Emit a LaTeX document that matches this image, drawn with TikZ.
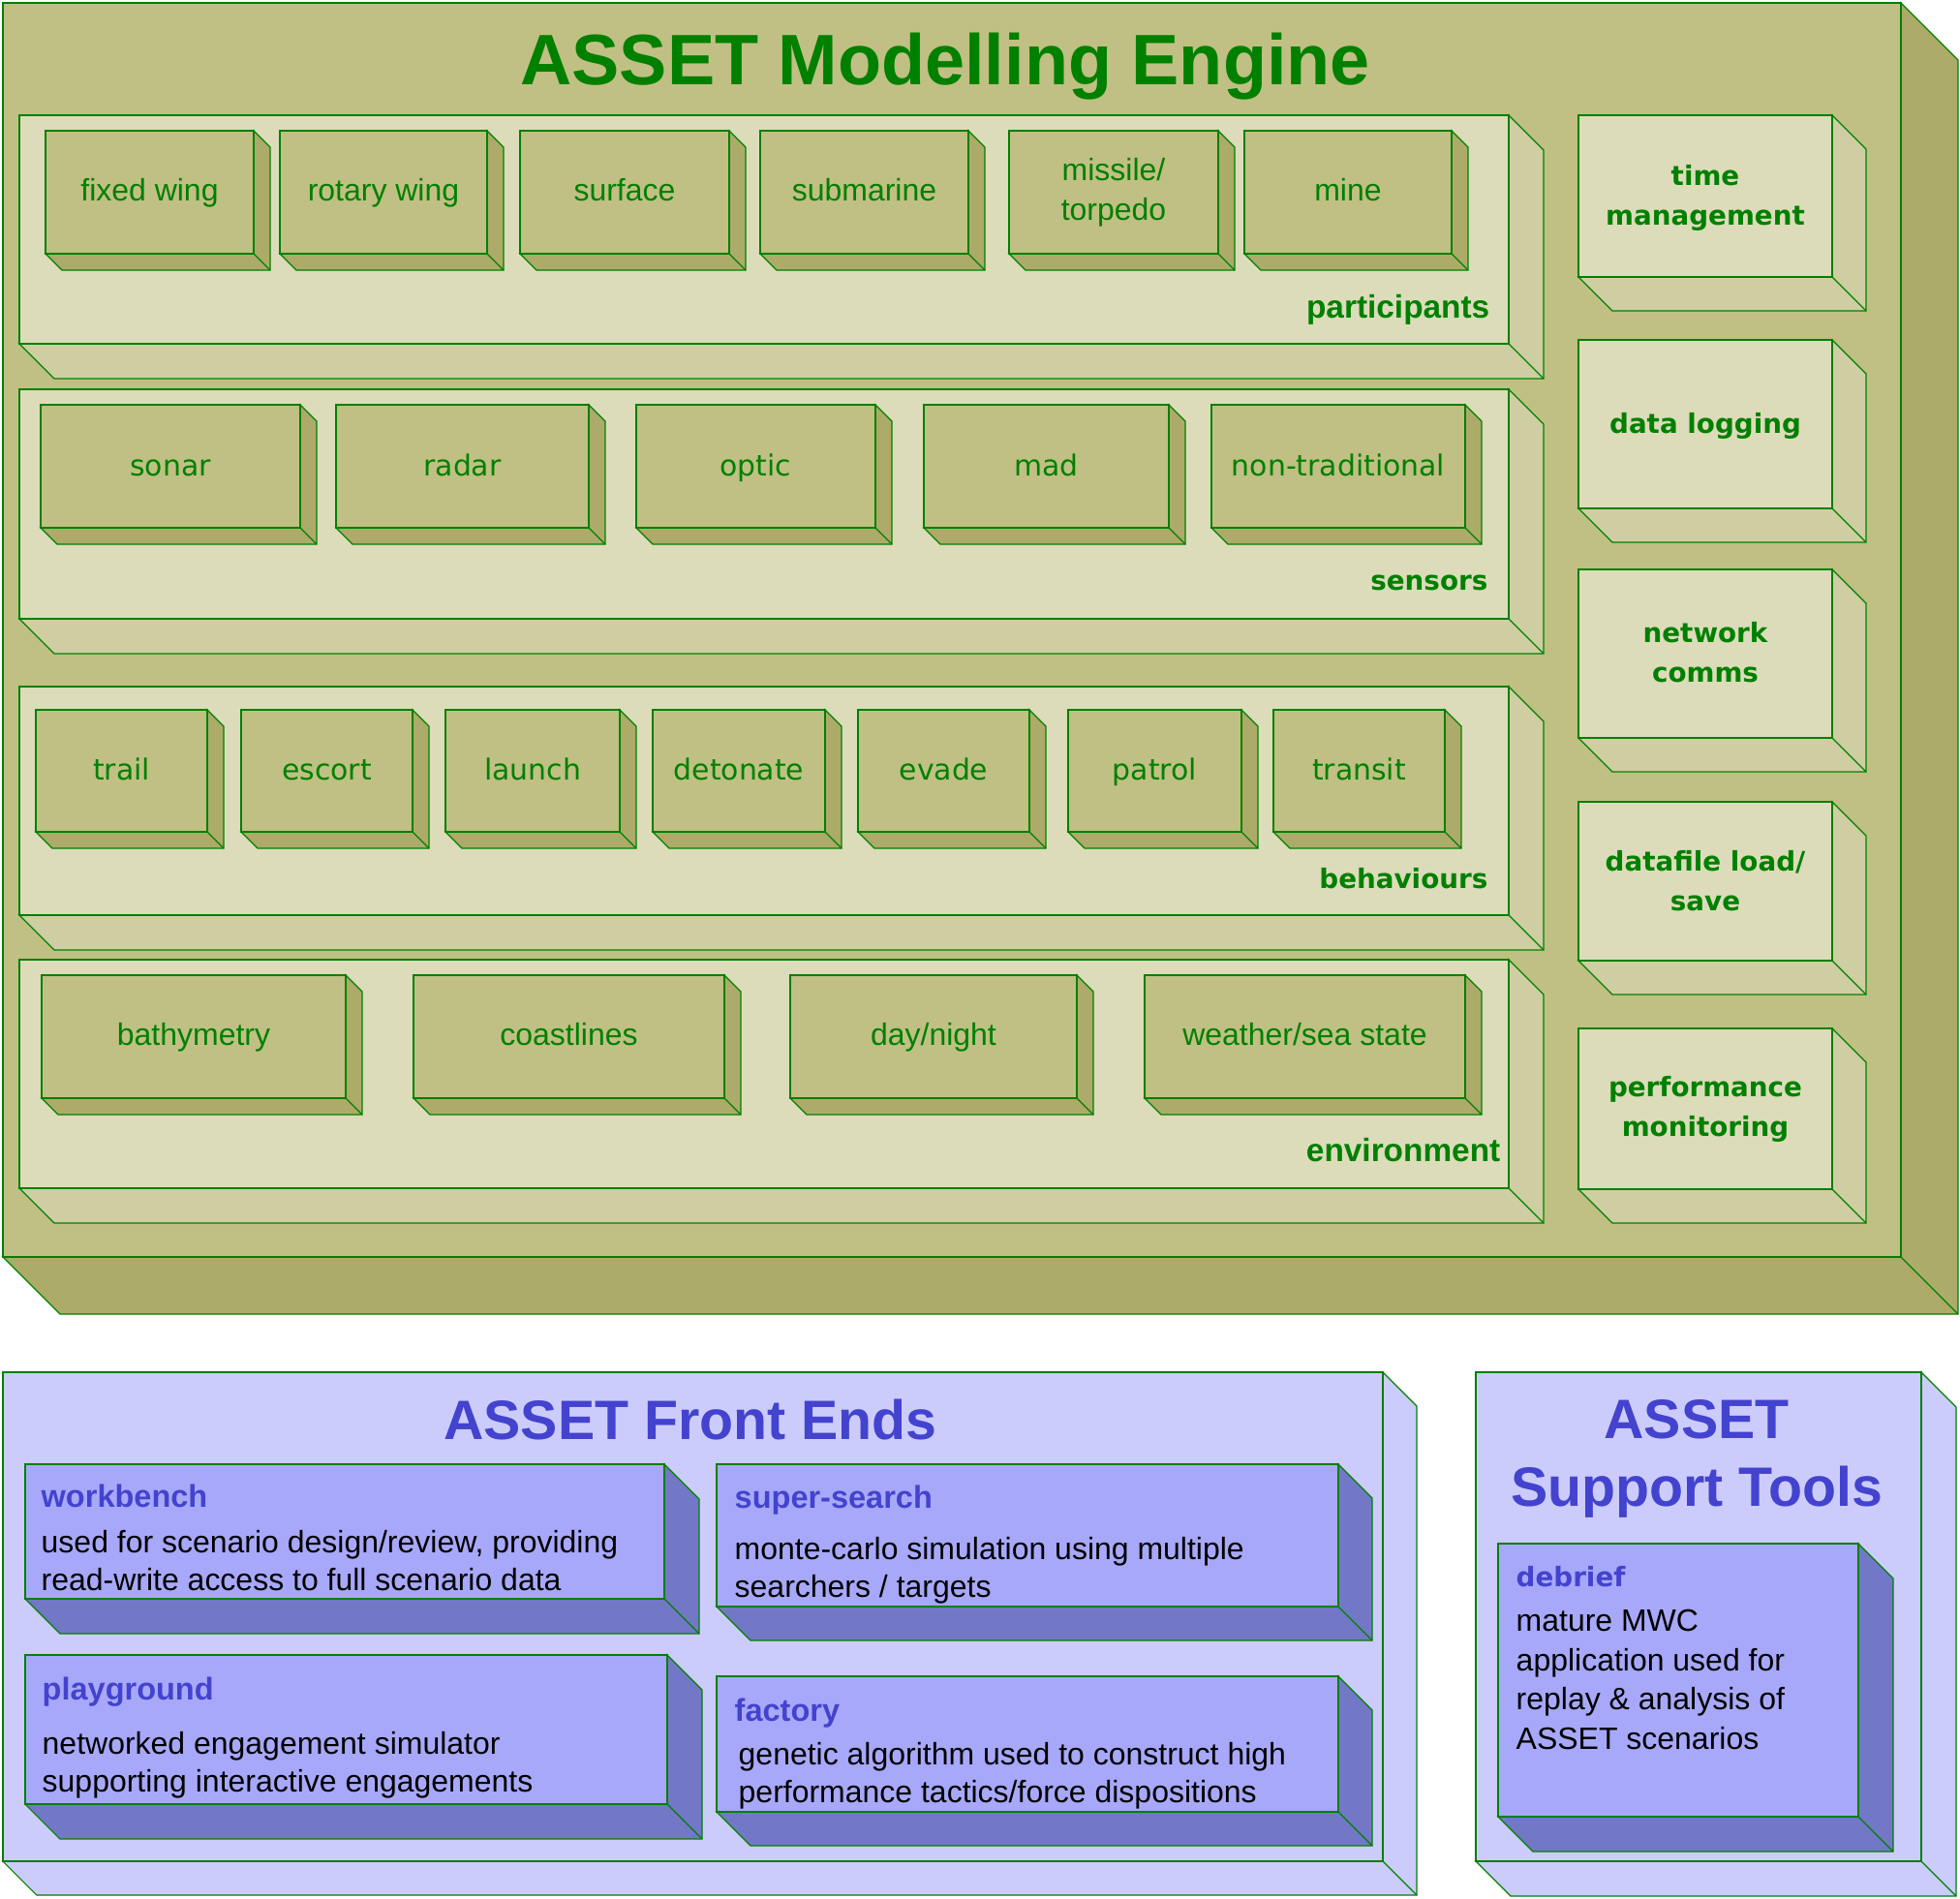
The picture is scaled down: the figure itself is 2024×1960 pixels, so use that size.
\documentclass[tikz,border=0pt]{standalone}
\usepackage{fontspec}
\setmainfont{Liberation Sans}
\newfontfamily\widesans{DejaVu Sans}
\usetikzlibrary{fit}

\definecolor{linegreen}{RGB}{0,128,0}
\definecolor{oliveface}{RGB}{192,192,132}
\definecolor{oliveside}{RGB}{173,171,105}
\definecolor{paleface}{RGB}{220,220,186}
\definecolor{paleside}{RGB}{207,206,163}
\definecolor{lilacface}{RGB}{204,204,252}
\definecolor{blueface}{RGB}{168,168,250}
\definecolor{blueside}{RGB}{114,120,198}
\definecolor{titleblue}{RGB}{67,67,207}

\tikzset {
  edge/.style = {
    draw = linegreen,
    line width = 0.11mm
  },
  % front face of a block, fitted to two corners
  face/.style = {
    edge,
    rectangle,
    inner sep = 0,
    outer sep = 0
  },
  engine face/.style = {face, fill = oliveface},
  engine depth/.style = {edge, fill = oliveside},
  panel face/.style = {face, fill = paleface},
  panel depth/.style = {edge, fill = paleside},
  item face/.style = {face, fill = oliveface},
  item depth/.style = {edge, fill = oliveside},
  bay face/.style = {face, fill = lilacface},
  bay depth/.style = {edge, fill = lilacface},
  tool face/.style = {face, fill = blueface},
  tool depth/.style = {edge, fill = blueside}
}
\tikzset {
  % multi-line texts sit on the baseline of their last line
  plain text/.style = {
    inner sep = 0,
    anchor = base,
    align = center
  },
  % big headings
  engine title/.style = {
    plain text,
    text = linegreen,
    font = \bfseries\fontsize{21}{25}\selectfont
  },
  bay title/.style = {
    plain text,
    text = titleblue,
    font = \bfseries\fontsize{16.3}{19.9}\selectfont
  },
  % labels inside the engine
  item text/.style = {
    plain text,
    text = linegreen,
    font = \fontsize{9.1}{11.4}\selectfont
  },
  wide text/.style = {
    plain text,
    text = linegreen,
    font = \widesans\fontsize{8.5}{11.4}\selectfont
  },
  side text/.style = {
    plain text,
    text = linegreen,
    font = \widesans\bfseries\fontsize{7.9}{11.4}\selectfont
  },
  group text/.style = {
    plain text,
    anchor = base east,
    text = linegreen,
    font = \bfseries\fontsize{9.5}{11.4}\selectfont
  },
  wide group text/.style = {
    side text,
    anchor = base east
  },
  % front end descriptions
  tool title/.style = {
    plain text,
    anchor = base west,
    text = titleblue,
    font = \bfseries\fontsize{9.25}{11}\selectfont
  },
  tool text/.style = {
    plain text,
    anchor = base west,
    align = left,
    font = \fontsize{9.1}{10.9}\selectfont
  }
}

% name, look, x1, y1, x2, y2, depth
\newcommand{\drawslab}[7]{%
  \path[#2 depth] (#5,#4) -- ++(#7,#7) -- ({#5+#7},{#6+#7})
    -- ({#3+#7},{#6+#7}) -- (#3,#6) -- (#5,#6) -- cycle;
  \node[#2 face, fit = {(#3,#4) (#5,#6)}] (#1) {};
  \draw[edge] (#1.south east) -- ++(#7,#7);
}

\begin{document}
\begin{tikzpicture}[x=0.1mm, y=-0.1mm]
    \useasboundingbox (0,0) rectangle (2024,1960);

    % modelling engine
    \drawslab{engine}{engine}{3}{3}{1963}{1298}{59}
    \node[engine title] (engine-title) at (976,87) {ASSET Modelling Engine};

    % participants
    \drawslab{participants}{panel}{20}{119}{1558}{355}{36}
    \drawslab{fixed-wing}{item}{47}{135}{262}{262}{17}
    \drawslab{rotary-wing}{item}{289}{135}{503}{262}{17}
    \drawslab{surface}{item}{537}{135}{753}{262}{17}
    \drawslab{submarine}{item}{785}{135}{1000}{262}{17}
    \drawslab{missile}{item}{1042}{135}{1258}{262}{17}
    \drawslab{mine}{item}{1285}{135}{1499}{262}{17}
    \node[item text] (fixed-wing-text) at (fixed-wing.center |- 0,207) {fixed wing};
    \node[item text] (rotary-wing-text) at (rotary-wing.center |- 0,207) {rotary wing};
    \node[item text] (surface-text) at (surface.center |- 0,207) {surface};
    \node[item text] (submarine-text) at (submarine.center |- 0,207) {submarine};
    \node[item text] (missile-text) at (missile.center |- 0,227) {missile/\\torpedo};
    \node[item text] (mine-text) at (mine.center |- 0,207) {mine};
    \node[group text] (participants-text) at (1539,328) {participants};

    % sensors
    \drawslab{sensors}{panel}{20}{402}{1558}{639}{36}
    \drawslab{sonar}{item}{42}{418}{310}{545}{17}
    \drawslab{radar}{item}{347}{418}{608}{545}{17}
    \drawslab{optic}{item}{657}{418}{904}{545}{17}
    \drawslab{mad}{item}{954}{418}{1207}{545}{17}
    \drawslab{non-trad}{item}{1251}{418}{1513}{545}{17}
    \node[wide text] (sonar-text) at (sonar.center |- 0,491) {sonar};
    \node[wide text] (radar-text) at (radar.center |- 0,491) {radar};
    \node[wide text] (optic-text) at (optic.center |- 0,491) {optic};
    \node[wide text] (mad-text) at (mad.center |- 0,491) {mad};
    \node[wide text] (non-trad-text) at (non-trad.center |- 0,491) {non-traditional};
    \node[wide group text] (sensors-text) at (1537,609) {sensors};

    % behaviours
    \drawslab{behaviours}{panel}{20}{709}{1558}{945}{36}
    \drawslab{trail}{item}{37}{733}{214}{859}{17}
    \drawslab{escort}{item}{249}{733}{426}{859}{17}
    \drawslab{launch}{item}{460}{733}{640}{859}{17}
    \drawslab{detonate}{item}{674}{733}{852}{859}{17}
    \drawslab{evade}{item}{886}{733}{1063}{859}{17}
    \drawslab{patrol}{item}{1103}{733}{1282}{859}{17}
    \drawslab{transit}{item}{1315}{733}{1492}{859}{17}
    \node[wide text] (trail-text) at (trail.center |- 0,805) {trail};
    \node[wide text] (escort-text) at (escort.center |- 0,805) {escort};
    \node[wide text] (launch-text) at (launch.center |- 0,805) {launch};
    \node[wide text] (detonate-text) at (detonate.center |- 0,805) {detonate};
    \node[wide text] (evade-text) at (evade.center |- 0,805) {evade};
    \node[wide text] (patrol-text) at (patrol.center |- 0,805) {patrol};
    \node[wide text] (transit-text) at (transit.center |- 0,805) {transit};
    \node[wide group text] (behaviours-text) at (1537,917) {behaviours};

    % environment
    \drawslab{environment}{panel}{20}{991}{1558}{1227}{36}
    \drawslab{bathymetry}{item}{43}{1007}{357}{1134}{17}
    \drawslab{coastlines}{item}{427}{1007}{748}{1134}{17}
    \drawslab{day-night}{item}{816}{1007}{1112}{1134}{17}
    \drawslab{weather}{item}{1182}{1007}{1513}{1134}{17}
    \node[item text] (bathymetry-text) at (bathymetry.center |- 0,1079) {bathymetry};
    \node[item text] (coastlines-text) at (coastlines.center |- 0,1079) {coastlines};
    \node[item text] (day-night-text) at (day-night.center |- 0,1079) {day/night};
    \node[item text] (weather-text) at (weather.center |- 0,1079) {weather/sea state};
    \node[group text] (environment-text) at (1550,1199) {environment};

    % services down the right hand side
    \drawslab{time}{panel}{1630}{119}{1892}{286}{35}
    \drawslab{logging}{panel}{1630}{351}{1892}{525}{35}
    \drawslab{network}{panel}{1630}{588}{1892}{762}{35}
    \drawslab{datafile}{panel}{1630}{828}{1892}{992}{35}
    \drawslab{performance}{panel}{1630}{1062}{1892}{1228}{35}
    \node[side text] (time-text) at (time.center |- 0,232) {time\\management};
    \node[side text] (logging-text) at (logging.center |- 0,447) {data logging};
    \node[side text] (network-text) at (network.center |- 0,704) {network\\comms};
    \node[side text] (datafile-text) at (datafile.center |- 0,940) {datafile load/\\save};
    \node[side text] (performance-text) at (performance.center |- 0,1173) {performance\\monitoring};

    % front ends
    \drawslab{front-ends}{bay}{3}{1417}{1428}{1922}{35}
    \node[bay title] (front-ends-title) at (713,1486) {ASSET Front Ends};
    \drawslab{workbench}{tool}{26}{1512}{686}{1651}{36}
    \drawslab{super-search}{tool}{740}{1512}{1382}{1659}{35}
    \drawslab{playground}{tool}{26}{1709}{689}{1863}{36}
    \drawslab{factory}{tool}{740}{1731}{1382}{1871}{35}
    \node[tool title] (workbench-title) at (42,1556) {workbench};
    \node[tool text] (workbench-text) at (42,1642)
      {used for scenario design/review, providing\\read-write access to full scenario data};
    \node[tool title] (super-search-title) at (758,1557) {super-search};
    \node[tool text] (super-search-text) at (758,1649)
      {monte-carlo simulation using multiple\\searchers / targets};
    \node[tool title] (playground-title) at (43,1755) {playground};
    \node[tool text] (playground-text) at (43,1850)
      {networked engagement simulator\\supporting interactive engagements};
    \node[tool title] (factory-title) at (758,1777) {factory};
    \node[tool text] (factory-text) at (762,1861)
      {genetic algorithm used to construct high\\performance tactics/force dispositions};

    % support tools
    \drawslab{support}{bay}{1524}{1417}{1984}{1922}{36}
    \node[bay title] (support-title) at (1752,1555) {ASSET\\Support Tools};
    \drawslab{debrief}{tool}{1547}{1594}{1919}{1876}{36}
    \node[tool title, font = \widesans\bfseries\fontsize{7.9}{11}\selectfont]
      (debrief-title) at (1565,1638) {debrief};
    \node[tool text, font = \fontsize{9.1}{11.5}\selectfont] (debrief-text) at (1565,1806)
      {mature MWC\\application used for\\replay \& analysis of\\ASSET scenarios};

  \end{tikzpicture}
\end{document}
